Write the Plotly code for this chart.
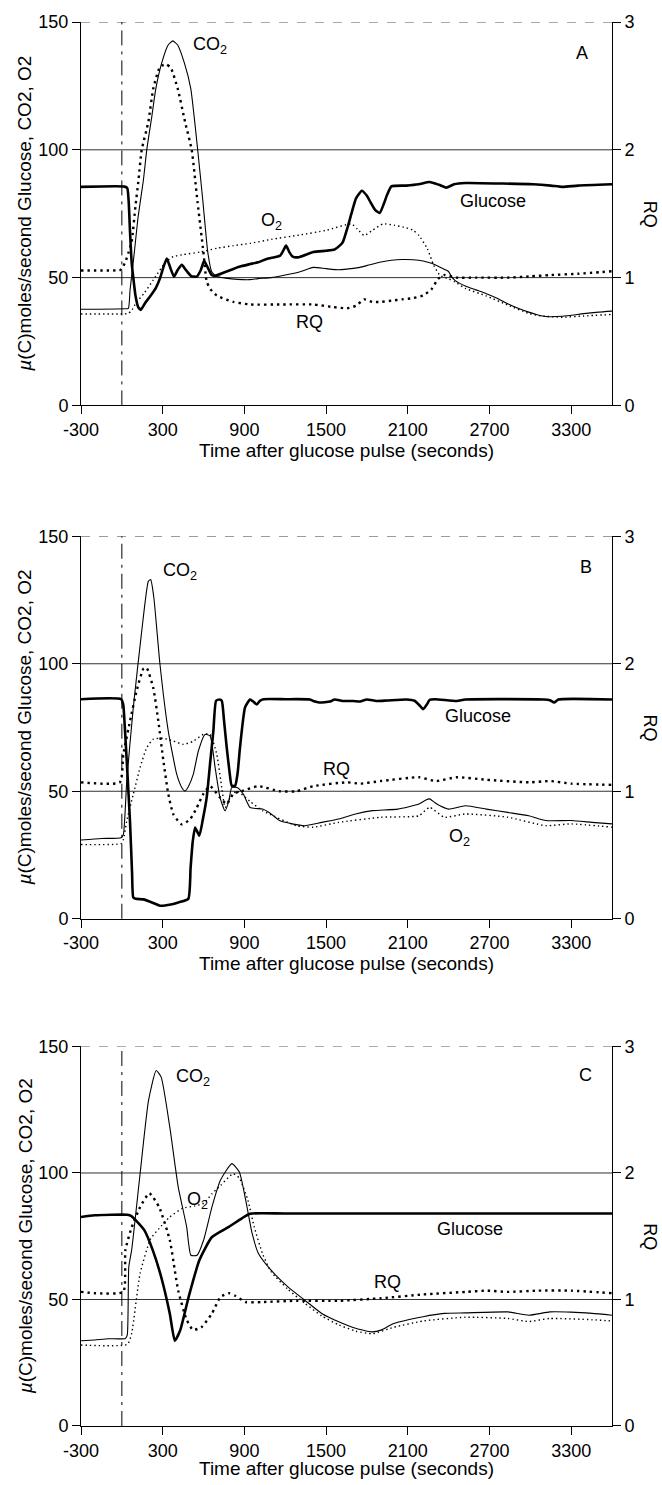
import plotly.graph_objects as go

# ---------------- Panel A ----------------
A_t_glc = [-300, 20, 40, 50, 60, 72, 84, 100, 120, 139, 170, 207, 250, 280, 305, 330, 355, 383, 410, 440, 470, 510, 550, 580, 604, 630, 660, 684, 750, 819, 880, 942, 1000, 1064, 1120, 1162, 1185, 1206, 1230, 1255, 1300, 1406, 1500, 1562, 1600, 1624, 1660, 1686, 1720, 1763, 1800, 1825, 1860, 1894, 1925, 1949, 1980, 2089, 2180, 2260, 2330, 2384, 2440, 2523, 2800, 3020, 3150, 3237, 3350, 3600]
A_glc = [85.5, 85.6, 85, 80, 68, 56, 50, 43, 38.5, 37.4, 40, 42.6, 46, 49.7, 54, 57.5, 54, 50.4, 53, 55, 53, 50.6, 50.4, 53, 56.6, 54, 51, 50.7, 52, 53.4, 54.5, 55.3, 56, 57.3, 58, 58.6, 60.5, 62.5, 60, 58.2, 58, 60, 60.5, 61, 62.5, 64, 70, 75, 81, 84, 82, 79.6, 76.5, 75.3, 79, 82.5, 85.7, 86, 86.5, 87.4, 86.3, 85.2, 86.5, 87, 86.8, 86.5, 86, 85.5, 86, 86.5]

A_t_co2 = [-300, 20, 48, 60, 75, 92, 120, 158, 183, 220, 250, 293, 340, 374, 410, 459, 506, 557, 595, 631, 660, 697, 760, 850, 942, 1000, 1096, 1200, 1309, 1406, 1500, 1593, 1700, 1748, 1820, 1903, 1980, 2058, 2140, 2213, 2280, 2337, 2370, 2399, 2420, 2446, 2523, 2600, 2678, 2760, 2834, 2910, 2989, 3050, 3113, 3237, 3392, 3500, 3600]
A_co2 = [37.6, 37.8, 38, 45, 52, 60, 74, 88, 100, 113, 124, 134, 141, 142.6, 141, 134, 124, 100, 80, 60, 52.3, 50.4, 49.8, 49.3, 49.2, 49.6, 50, 51, 52.3, 54, 53.5, 53.1, 53.6, 54, 55, 56.1, 56.8, 57.1, 57, 56.5, 55.5, 54.1, 53.2, 52.4, 50.5, 48.9, 46.7, 45.2, 43.7, 41.8, 39.8, 38, 36.5, 35.5, 34.8, 34.9, 35.9, 36.5, 36.9]

A_t_o2 = [-300, 20, 48, 70, 103, 165, 230, 320, 378, 450, 574, 700, 820, 942, 1100, 1309, 1500, 1686, 1730, 1779, 1840, 1918, 2000, 2089, 2140, 2182, 2244, 2291, 2337, 2400, 2446, 2523, 2678, 2834, 2989, 3082, 3237, 3392, 3600]
A_o2 = [35.8, 35.8, 36, 37, 40, 44, 49, 56, 58.2, 59, 60, 61.5, 62.5, 63.4, 65, 66.7, 68.5, 71, 69, 66.5, 68.5, 71, 70.5, 69.5, 68.5, 66.5, 61.3, 54.8, 50.9, 49.5, 48.3, 45.8, 42.8, 39.3, 36, 35, 34.5, 35, 35.6]

A_t_rq = [-300, -10, 0, 25, 50, 72, 100, 121, 146, 195, 231, 281, 325, 360, 410, 464, 513, 555, 599, 623, 650, 697, 819, 942, 1184, 1406, 1550, 1655, 1720, 1779, 1840, 1903, 1980, 2058, 2140, 2213, 2275, 2322, 2368, 2461, 2600, 2834, 3000, 3144, 3350, 3600]
A_rq = [1.056, 1.06, 1.07, 1.12, 1.2, 1.28, 1.56, 1.75, 2.0, 2.22, 2.48, 2.65, 2.67, 2.64, 2.48, 2.22, 2.0, 1.6, 1.2, 0.97, 0.91, 0.86, 0.81, 0.79, 0.79, 0.79, 0.77, 0.76, 0.78, 0.83, 0.81, 0.81, 0.82, 0.83, 0.84, 0.86, 0.91, 0.99, 1.02, 1.0, 1.0, 1.0, 1.01, 1.02, 1.03, 1.05]

# ---------------- Panel B ----------------
B_t_glc = [-300, -5, 10, 23, 40, 60, 75, 84, 103, 157, 230, 280, 360, 420, 488, 505, 520, 538, 569, 595, 623, 650, 672, 692, 715, 734, 750, 770, 790, 807, 832, 850, 868, 905, 942, 965, 991, 1015, 1040, 1200, 1380, 1406, 1450, 1530, 1562, 1620, 1700, 1750, 1800, 1870, 1950, 2089, 2150, 2190, 2213, 2240, 2260, 2300, 2461, 2523, 3100, 3144, 3175, 3206, 3600]
B_glc = [86.1, 86.1, 84, 74, 58, 38, 18, 8.4, 7.8, 7.6, 6.2, 5.1, 5.6, 6.5, 7.8, 20, 30, 35.8, 32.6, 39, 47.5, 62, 73.5, 85.5, 86, 85.5, 78, 67.3, 58, 52.2, 52.2, 57, 67.3, 82.9, 86, 85.2, 84, 85.5, 86.1, 86.1, 86, 85.4, 84.8, 85.2, 86, 85.4, 85.4, 85.2, 86, 85.4, 85.6, 86, 85.5, 83.5, 82.2, 84, 85.8, 86.1, 85.4, 86, 86, 85.7, 84.8, 86, 86]

B_t_co2 = [-300, -150, -5, 11, 36, 84, 146, 195, 212, 235, 280, 341, 403, 440, 464, 490, 525, 562, 611, 648, 685, 721, 758, 785, 807, 850, 893, 942, 1034, 1096, 1158, 1251, 1344, 1468, 1593, 1717, 1841, 2027, 2182, 2230, 2260, 2300, 2337, 2399, 2523, 2678, 2834, 2989, 3113, 3299, 3454, 3600]
B_co2 = [30.9, 31.5, 31.8, 33, 54, 82.8, 112.8, 132.4, 133, 126, 99.8, 73.6, 56.7, 51.5, 50.1, 52, 56.7, 65.8, 72.3, 71.7, 59.3, 47.5, 42.3, 46, 51.4, 51.4, 48.8, 43.6, 43, 41.1, 38.5, 37.2, 36.5, 37.8, 39.1, 41.1, 42.4, 43, 45, 46.5, 47, 45.5, 44.3, 43, 44.3, 43, 41.7, 40.4, 38.5, 38.5, 37.8, 37.2]

B_t_o2 = [-300, -5, 11, 36, 84, 134, 183, 231, 300, 378, 452, 520, 599, 648, 697, 734, 758, 800, 844, 942, 1034, 1282, 1406, 1593, 1903, 2182, 2260, 2368, 2523, 2834, 3113, 3299, 3600]
B_o2 = [29.1, 29.5, 31, 38.4, 48.8, 59.3, 67.1, 70.4, 70.8, 69.7, 68.4, 69.5, 72.3, 72.3, 64.5, 51.4, 43.6, 48, 50.1, 46, 42.4, 36.5, 35.9, 37.8, 39.8, 40.4, 43.7, 39.8, 41.1, 39.8, 36.5, 37.2, 35.9]

B_t_rq = [-300, -15, 11, 60, 109, 158, 181, 231, 268, 305, 341, 378, 440, 501, 550, 599, 648, 721, 770, 819, 879, 1003, 1158, 1282, 1406, 1655, 1750, 1903, 2182, 2306, 2461, 2678, 2989, 3144, 3299, 3600]
B_rq = [1.07, 1.07, 1.29, 1.55, 1.79, 1.96, 1.97, 1.81, 1.55, 1.24, 0.98, 0.82, 0.74, 0.78, 0.87, 0.98, 1.04, 0.95, 0.9, 0.98, 1.0, 1.04, 1.0, 1.0, 1.04, 1.07, 1.06, 1.08, 1.11, 1.08, 1.11, 1.09, 1.07, 1.08, 1.06, 1.05]

# ---------------- Panel C ----------------
C_t_glc = [-300, -200, 41, 70, 103, 165, 227, 289, 352, 389, 429, 491, 569, 662, 786, 879, 941, 1200, 3600]
C_glc = [82.6, 83.3, 83.5, 83, 81.3, 77.4, 69.5, 58.9, 44.5, 33.7, 37.9, 51.1, 65.5, 74.7, 78.7, 82, 83.9, 84, 84]

C_t_co2 = [-300, -200, -100, 26, 40, 51, 72, 134, 196, 252, 289, 352, 414, 476, 507, 553, 600, 662, 724, 808, 863, 910, 957, 1003, 1096, 1220, 1344, 1468, 1593, 1717, 1841, 1903, 1996, 2213, 2368, 2523, 2834, 2989, 3144, 3299, 3454, 3600]
C_co2 = [33.7, 34, 34.5, 34.6, 36, 62.9, 69.5, 99.7, 128.7, 140.5, 137.9, 118.2, 94.5, 78.7, 67.5, 67.5, 73.4, 86.6, 97.1, 103.7, 100.4, 89.2, 76.1, 68.2, 61.6, 55, 49.7, 44.5, 41.2, 38.6, 37.2, 37.9, 40.5, 43.2, 44.5, 44.7, 45.1, 43.8, 45.1, 45, 44.5, 43.8]

C_t_o2 = [-300, 41, 72, 134, 212, 289, 352, 445, 538, 600, 662, 724, 817, 863, 926, 972, 1034, 1096, 1220, 1344, 1468, 1593, 1717, 1841, 1996, 2213, 2523, 2834, 2989, 3144, 3454, 3600]
C_o2 = [32, 32.3, 36.6, 60.3, 74, 79, 82.6, 86, 87, 88, 91.8, 95, 99.7, 98, 89.2, 78.7, 68, 61, 54, 48.5, 43.5, 40, 37.5, 36.5, 39, 41.5, 43, 42.5, 41.3, 42.5, 42, 41.5]

C_t_rq = [-300, -200, 10, 26, 72, 134, 202, 274, 352, 414, 476, 522, 584, 662, 724, 786, 832, 910, 1034, 1282, 1600, 1903, 2213, 2523, 2678, 2834, 3051, 3299, 3600]
C_rq = [1.06, 1.05, 1.06, 1.39, 1.57, 1.73, 1.84, 1.73, 1.47, 1.07, 0.84, 0.76, 0.78, 0.89, 1.02, 1.05, 1.03, 0.98, 0.98, 0.99, 0.99, 1.01, 1.04, 1.06, 1.07, 1.06, 1.07, 1.07, 1.05]

# ---------------- Axes / labels ----------------
X_TICKS = [-300, 300, 900, 1500, 2100, 2700, 3300]
X_TICK_TEXT = ["-300", "300", "900", "1500", "2100", "2700", "3300"]
X_RANGE = [-300, 3600]
LEFT_TICKS = [0, 50, 100, 150]
RIGHT_TICKS = [0, 1, 2, 3]
GRID_LEVELS = [50, 100]
PULSE_T = 0
X_TITLE = "Time after glucose pulse (seconds)"
Y_TITLE = "<i>µ</i>(C)moles/second Glucose, CO2, O2"
Y2_TITLE = "RQ"

# label positions (data coords) per panel: (text, t, value)
LABELS = [
    [("CO<sub>2</sub>", 650, 141), ("A", 3380, 138), ("O<sub>2</sub>", 1096, 72), ("Glucose", 2725, 80), ("RQ", 1375, 32.6)],
    [("CO<sub>2</sub>", 429, 136), ("B", 3408, 138), ("Glucose", 2616, 79.6), ("RQ", 1577, 58.7), ("O<sub>2</sub>", 2477, 32)],
    [("CO<sub>2</sub>", 519, 137.6), ("C", 3408, 138.6), ("O<sub>2</sub>", 559, 89), ("Glucose", 2554, 78), ("RQ", 1949, 57)],
]

panels = [
    (A_t_glc, A_glc, A_t_co2, A_co2, A_t_o2, A_o2, A_t_rq, A_rq),
    (B_t_glc, B_glc, B_t_co2, B_co2, B_t_o2, B_o2, B_t_rq, B_rq),
    (C_t_glc, C_glc, C_t_co2, C_co2, C_t_o2, C_o2, C_t_rq, C_rq),
]

W, H = 662, 1485
ML, MR, MT, MB = 81, 50, 20, 59
domains = [[0.7269, 1.0], [0.3613, 0.6337], [0.0, 0.2703]]
x_title_shift = [-45, -45, -42]

FONT = "Liberation Sans, Arial, Helvetica, sans-serif"
TICKFONT = dict(family=FONT, size=18, color="black")
fig = go.Figure()

shapes = []
annotations = []
layout_axes = {}

for i, (tg, g, tc, c, to, o, tr, r) in enumerate(panels):
    xa = "x" if i == 0 else f"x{i+1}"
    yl = "y" if i == 0 else f"y{2*i+1}"
    yr = f"y{2*i+2}"
    xkey = "xaxis" if i == 0 else f"xaxis{i+1}"
    ylkey = "yaxis" if i == 0 else f"yaxis{2*i+1}"
    yrkey = f"yaxis{2*i+2}"

    fig.add_trace(go.Scatter(x=tg, y=g, mode="lines", xaxis=xa, yaxis=yl,
                             line=dict(color="black", width=2.6, shape="spline", smoothing=0.5),
                             name="Glucose", showlegend=False))
    fig.add_trace(go.Scatter(x=tc, y=c, mode="lines", xaxis=xa, yaxis=yl,
                             line=dict(color="black", width=1.1, shape="spline", smoothing=0.5),
                             name="CO2", showlegend=False))
    fig.add_trace(go.Scatter(x=to, y=o, mode="lines", xaxis=xa, yaxis=yl,
                             line=dict(color="black", width=1.4, dash="1.4px,3px", shape="spline", smoothing=0.5),
                             name="O2", showlegend=False))
    fig.add_trace(go.Scatter(x=tr, y=r, mode="lines", xaxis=xa, yaxis=yr,
                             line=dict(color="black", width=2.4, dash="2.4px,4px", shape="spline", smoothing=0.5),
                             name="RQ", showlegend=False))

    layout_axes[xkey] = dict(domain=[0, 1], anchor=yl, range=X_RANGE, tickvals=X_TICKS,
                             ticktext=X_TICK_TEXT,
                             ticks="outside", ticklen=8, tickcolor="black", showline=True,
                             linecolor="black", linewidth=1, showgrid=False, zeroline=False,
                             tickfont=TICKFONT)
    layout_axes[ylkey] = dict(domain=domains[i], anchor=xa, range=[0, 150], tickvals=LEFT_TICKS,
                              ticks="outside", ticklen=8, tickcolor="black", showline=True,
                              linecolor="black", linewidth=1, showgrid=False, zeroline=False,
                              tickfont=TICKFONT)
    layout_axes[yrkey] = dict(domain=domains[i], anchor=xa, overlaying=yl, side="right",
                              range=[0, 3], tickvals=RIGHT_TICKS, ticks="outside", ticklen=8,
                              tickcolor="black", showline=True, linecolor="black", linewidth=1,
                              showgrid=False, zeroline=False, tickfont=TICKFONT)

    for lv in GRID_LEVELS:
        shapes.append(dict(type="line", xref=f"{xa} domain", yref=yl, x0=0, x1=1, y0=lv, y1=lv,
                           line=dict(color="#333333", width=1), layer="below"))
    shapes.append(dict(type="line", xref=f"{xa} domain", yref=yl, x0=0, x1=1, y0=150, y1=150,
                       line=dict(color="#555555", width=1, dash="dash"), layer="below"))
    shapes.append(dict(type="line", xref=xa, yref=f"{yl} domain", x0=PULSE_T, x1=PULSE_T, y0=0, y1=1,
                       line=dict(color="black", width=1, dash="longdashdot"), layer="below"))

    for txt, tx, ty in LABELS[i]:
        annotations.append(dict(text=txt, x=tx, y=ty, xref=xa, yref=yl, showarrow=False,
                                xanchor="center", yanchor="middle",
                                font=dict(family=FONT, size=18, color="black")))

    ymid = (domains[i][0] + domains[i][1]) / 2
    annotations.append(dict(text=Y_TITLE, x=0, y=ymid, xref="paper", yref="paper", xshift=-56,
                            textangle=-90, showarrow=False, xanchor="center", yanchor="middle",
                            font=dict(family=FONT, size=19, color="black")))
    annotations.append(dict(text=Y2_TITLE, x=1, y=ymid, xref="paper", yref="paper", xshift=38,
                            textangle=90, showarrow=False, xanchor="center", yanchor="middle",
                            font=dict(family=FONT, size=18, color="black")))
    annotations.append(dict(text=X_TITLE, x=0.5, y=domains[i][0], xref="paper", yref="paper",
                            yshift=x_title_shift[i], showarrow=False, xanchor="center", yanchor="middle",
                            font=dict(family=FONT, size=19, color="black")))

fig.update_layout(width=W, height=H, margin=dict(l=ML, r=MR, t=MT, b=MB),
                  paper_bgcolor="white", plot_bgcolor="white",
                  shapes=shapes, annotations=annotations, showlegend=False,
                  font=dict(family=FONT, size=18, color="black"), **layout_axes)

fig.write_html("out.html", config={"displayModeBar": False},
               post_script="document.body.style.margin='0px';document.body.style.padding='0px';")
